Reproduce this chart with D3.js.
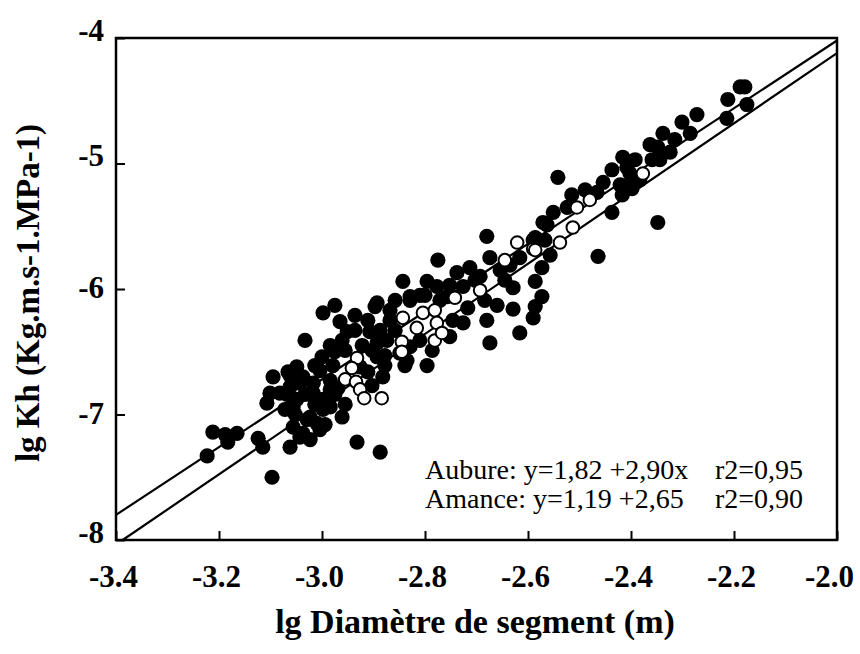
<!DOCTYPE html>
<html>
<head>
<meta charset="utf-8">
<script src="https://cdn.jsdelivr.net/npm/d3@7"></script>
<style>
  html, body { margin: 0; padding: 0; background: #fff; }
  svg { display: block; }
</style>
</head>
<body>
<svg id="chart" width="860" height="654"></svg>
<script>
// ---------- data ----------
const xTicks = [-3.4, -3.2, -3.0, -2.8, -2.6, -2.4, -2.2, -2.0];
const xTickLabels = ["-3.4", "-3.2", "-3.0", "-2.8", "-2.6", "-2.4", "-2.2", "-2.0"];
const yTicks = [-4, -5, -6, -7, -8];
const yTickLabels = ["-4", "-5", "-6", "-7", "-8"];

const xTitle = "lg Diamètre de segment (m)";
const yTitle = "lg Kh (Kg.m.s-1.MPa-1)";
const eqLabels = ["Aubure: y=1,82 +2,90x", "Amance: y=1,19 +2,65"];
const r2Labels = ["r2=0,95", "r2=0,90"];

// regression lines (end points as drawn)
const upperLineX = [-3.4, -2.0];
const upperLineY = [-7.80, -4.02];
const lowerLineX = [-3.387, -2.0];
const lowerLineY = [-8.0, -4.12];

// filled points
const solidX = [
 -3.223,-3.212,-3.188,-3.165,-3.183,-3.124,-3.115,-3.097,-3.062,-3.107,
 -3.101,-3.095,-3.049,-3.004,-3.043,-3.056,-3.029,-3.010,-3.043,-3.017,
 -2.998,-3.056,-3.062,-3.037,-3.017,-2.998,-2.984,-3.023,-3.049,-3.082,
 -3.004,-3.037,-3.033,-2.998,-2.975,-2.951,-2.961,-3.000,-2.932,-2.887,
 -2.897,-2.907,-2.882,-2.893,-2.874,-2.926,-2.868,-2.887,-2.829,-2.810,
 -2.829,-2.835,-2.796,-2.843,-2.796,-2.775,-2.680,-2.629,-2.629,-2.680,
 -2.616,-2.674,-2.590,-2.571,-2.573,-2.586,-2.573,-2.586,-2.590,-2.674,
 -2.738,-2.713,-2.829,-2.777,-2.757,-2.726,-2.693,-2.654,-2.868,-2.893,
 -2.746,-2.726,-2.752,-2.810,-2.849,-2.893,-2.542,-2.437,-2.348,-2.464,
 -2.301,-2.272,-2.285,-2.338,-2.348,-2.324,-2.359,-2.416,-2.392,-2.402,
 -2.421,-2.398,-2.417,-2.454,-2.466,-2.524,-2.551,-2.563,-2.586,-2.188,
 -2.179,-2.212,-2.175,-2.214,-2.396,-3.072,-2.984,-2.961,-2.955,-2.911,
 -2.903,-2.660,-2.975,-2.979,-3.066,
 -3.068,-3.052,-3.014,-2.994,-3.033,-3.062,-3.014,-2.984,-3.023,-2.975,
 -2.936,-2.922,-2.955,-2.911,-2.858,-2.878,-2.878,-2.903,-2.969,-2.984,
 -2.936,-2.965,-2.858,-2.800,-2.752,-2.703,-2.635,-2.616,-2.645,-2.717,
 -2.786,-2.839,-2.771,-2.684,-2.489,-2.567,-2.557,-2.515,-2.408,-2.383,
 -2.344,-2.315,-2.363,-2.437
];
const solidY = [
 -7.33,-7.14,-7.16,-7.15,-7.22,-7.19,-7.26,-7.50,-7.26,-6.91,
 -6.83,-6.70,-6.62,-6.65,-6.75,-6.94,-7.04,-7.07,-7.18,-6.83,
 -6.96,-7.10,-6.78,-6.70,-6.75,-6.88,-6.94,-7.02,-6.88,-6.83,
 -7.12,-7.15,-6.41,-6.19,-6.13,-6.34,-6.41,-6.54,-7.22,-7.30,
 -6.14,-6.34,-6.70,-6.54,-6.41,-6.62,-6.25,-6.33,-6.09,-6.05,
 -6.46,-6.57,-6.61,-5.94,-5.94,-5.77,-5.58,-5.99,-6.16,-6.25,
 -6.35,-6.43,-5.61,-5.47,-5.83,-5.94,-6.06,-6.14,-6.23,-5.75,
 -5.87,-5.83,-6.06,-5.98,-6.06,-5.98,-5.90,-5.85,-6.17,-6.11,
 -6.25,-6.27,-6.38,-6.41,-6.51,-6.43,-5.11,-5.39,-5.47,-5.74,
 -4.67,-4.61,-4.76,-4.76,-4.87,-4.91,-4.97,-4.95,-4.97,-5.08,
 -5.17,-5.20,-5.25,-5.15,-5.23,-5.35,-5.39,-5.49,-5.59,-4.39,
 -4.39,-4.49,-4.53,-4.64,-5.16,-6.96,-6.80,-7.02,-6.92,-6.66,
 -6.49,-6.13,-6.50,-6.61,-6.66,
 -6.84,-7.00,-6.92,-7.08,-6.84,-6.69,-6.61,-6.73,-7.20,-6.84,
 -6.33,-6.45,-6.49,-6.25,-6.33,-6.53,-6.61,-6.77,-6.79,-6.45,
 -6.21,-6.26,-6.09,-6.05,-5.97,-5.93,-5.81,-5.75,-5.93,-6.15,
 -6.49,-6.61,-6.09,-6.09,-5.21,-5.61,-5.73,-5.25,-5.03,-5.13,
 -4.97,-4.81,-4.85,-5.05
];

// open points
const hollowX = [
 -2.932,-2.942,-2.955,-2.934,-2.926,-2.918,-2.884,-2.845,-2.845,-2.843,
 -2.816,-2.804,-2.781,-2.777,-2.781,-2.621,-2.590,-2.645,-2.693,-2.742,
 -2.767,-2.513,-2.538,-2.586,-2.480,-2.505,-2.377
];
const hollowY = [
 -6.55,-6.63,-6.72,-6.74,-6.80,-6.87,-6.87,-6.42,-6.50,-6.23,
 -6.31,-6.19,-6.17,-6.27,-6.41,-5.63,-5.68,-5.77,-6.01,-6.07,
 -6.35,-5.51,-5.63,-5.69,-5.29,-5.35,-5.08
];

// ---------- chart ----------
const svg = d3.select("#chart");
const x = d3.scaleLinear().domain([-3.4, -2.0]).range([116, 837]);
const y = d3.scaleLinear().domain([-8, -4]).range([540, 38]);
const serif = "'Liberation Serif', 'Times New Roman', serif";

// regression lines
const line = d3.line().x(d => x(d[0])).y(d => y(d[1]));
[[upperLineX, upperLineY], [lowerLineX, lowerLineY]].forEach(([lx, ly]) => {
  svg.append("path")
    .datum(lx.map((v, i) => [v, ly[i]]))
    .attr("d", line)
    .attr("fill", "none")
    .attr("stroke", "#000")
    .attr("stroke-width", 2.2);
});

// filled points
svg.append("g").selectAll("circle")
  .data(solidX.map((v, i) => [v, solidY[i]]))
  .join("circle")
  .attr("cx", d => x(d[0]))
  .attr("cy", d => y(d[1]))
  .attr("r", 7.6)
  .attr("fill", "#000");

// open points
svg.append("g").selectAll("circle")
  .data(hollowX.map((v, i) => [v, hollowY[i]]))
  .join("circle")
  .attr("cx", d => x(d[0]))
  .attr("cy", d => y(d[1]))
  .attr("r", 6.3)
  .attr("fill", "#fff")
  .attr("stroke", "#000")
  .attr("stroke-width", 2);

// axes
const xAxis = d3.axisBottom(x)
  .tickValues(xTicks)
  .tickFormat((d, i) => xTickLabels[i])
  .tickSize(-9)
  .tickSizeOuter(0)
  .tickPadding(25);
const gx = svg.append("g").attr("transform", "translate(0,540)").call(xAxis);
gx.select(".domain").remove();
gx.selectAll("line").attr("stroke", "#000").attr("stroke-width", 2);
gx.selectAll("text")
  .attr("font-family", serif)
  .attr("font-weight", "bold")
  .attr("font-size", 31)
  .attr("dx", (d, i) => i === xTicks.length - 1 ? -8 : -3)
  .attr("fill", "#000");

const yAxis = d3.axisLeft(y)
  .tickValues(yTicks)
  .tickFormat((d, i) => yTickLabels[i])
  .tickSize(-9)
  .tickSizeOuter(0)
  .tickPadding(12);
const gy = svg.append("g").attr("transform", "translate(116,0)").call(yAxis);
gy.select(".domain").remove();
gy.selectAll("line").attr("stroke", "#000").attr("stroke-width", 2);
gy.selectAll("text")
  .attr("font-family", serif)
  .attr("font-weight", "bold")
  .attr("font-size", 31)
  .attr("dy", (d, i) => (i === 0 || i === 1 || i === 4) ? "0.08em" : "0.28em")
  .attr("fill", "#000");

// frame
svg.append("rect")
  .attr("x", x(-3.4)).attr("y", y(-4))
  .attr("width", x(-2.0) - x(-3.4))
  .attr("height", y(-8) - y(-4))
  .attr("fill", "none")
  .attr("stroke", "#000")
  .attr("stroke-width", 2.5);

// titles
svg.append("text")
  .attr("x", 475).attr("y", 633)
  .attr("text-anchor", "middle")
  .attr("font-family", serif)
  .attr("font-weight", "bold")
  .attr("font-size", 34)
  .text(xTitle);

svg.append("text")
  .attr("transform", "translate(39,293) rotate(-90)")
  .attr("text-anchor", "middle")
  .attr("font-family", serif)
  .attr("font-weight", "bold")
  .attr("font-size", 33)
  .text(yTitle);

// equations
eqLabels.forEach((t, i) => {
  svg.append("text")
    .attr("x", 425).attr("y", 479 + i * 29)
    .attr("font-family", serif)
    .attr("font-size", 28)
    .text(t);
  svg.append("text")
    .attr("x", 715).attr("y", 479 + i * 29)
    .attr("font-family", serif)
    .attr("font-size", 28)
    .text(r2Labels[i]);
});
</script>
</body>
</html>
